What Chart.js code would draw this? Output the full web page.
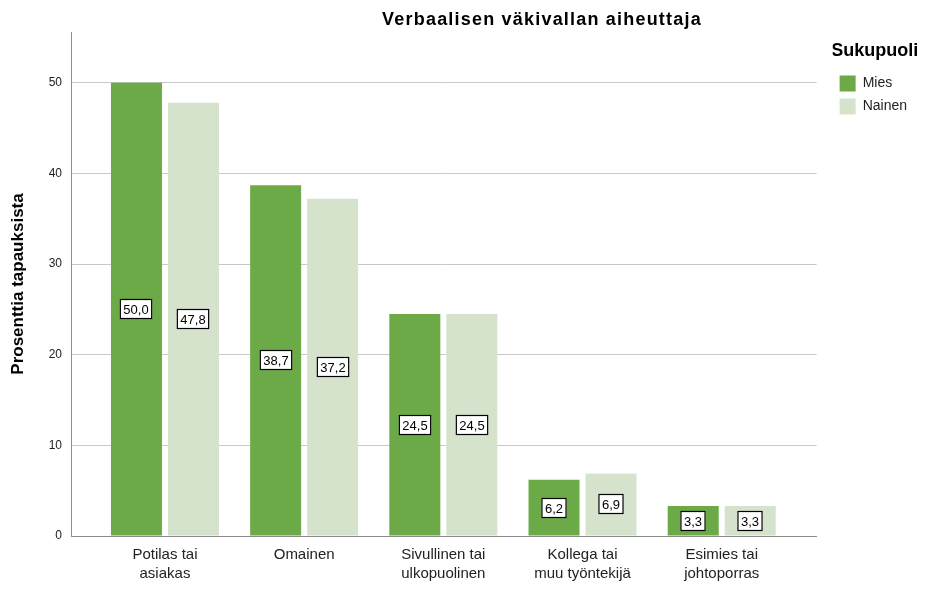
<!DOCTYPE html>
<html lang="fi">
<head>
  <meta charset="UTF-8" />
  <title>Verbaalisen väkivallan aiheuttaja</title>
  <script src="https://cdn.jsdelivr.net/npm/chart.js@4.4.1/dist/chart.umd.min.js"></script>
  <style>
    html, body { margin: 0; padding: 0; background: #fff; }
    #wrap { width: 929px; height: 590px; }
  </style>
</head>
<body>
  <div id="wrap"><canvas id="chart" width="929" height="590"></canvas></div>

  <script>
  // data
  const categories = [
    ['Potilas tai', 'asiakas'],
    ['Omainen'],
    ['Sivullinen tai', 'ulkopuolinen'],
    ['Kollega tai', 'muu työntekijä'],
    ['Esimies tai', 'johtoporras']
  ];
  const mies   = [50.0, 38.7, 24.5, 6.2, 3.3];
  const nainen = [47.8, 37.2, 24.5, 6.9, 3.3];
  const yTicks = [0, 10, 20, 30, 40, 50];

  const FONT = "'Liberation Sans', Arial, sans-serif";
  const asPoints = arr => arr.map((v, i) => ({ x: i, y: v }));
  const fmt = v => v.toFixed(1).replace('.', ',');

  // title drawn over the plot, a bit right of centre like the original
  const topTitle = {
    id: 'topTitle',
    afterDraw(chart) {
      const ctx = chart.ctx;
      ctx.save();
      ctx.font = 'bold 18px ' + FONT;
      ctx.fillStyle = '#000';
      ctx.textAlign = 'center';
      ctx.textBaseline = 'alphabetic';
      if ('letterSpacing' in ctx) ctx.letterSpacing = '1.2px';
      ctx.fillText('Verbaalisen väkivallan aiheuttaja', 542, 25);
      ctx.restore();
    }
  };

  // boxed value labels in the middle of each bar
  const boxLabels = {
    id: 'boxLabels',
    afterDatasetsDraw(chart) {
      const ctx = chart.ctx;
      ctx.save();
      ctx.font = '13px ' + FONT;
      ctx.textAlign = 'center';
      ctx.textBaseline = 'middle';
      chart.data.datasets.forEach((ds, di) => {
        chart.getDatasetMeta(di).data.forEach((bar, i) => {
          const txt = fmt(ds.data[i].y);
          const w = ctx.measureText(txt).width + 7;
          const h = 20;
          const cx = Math.round(bar.x), cy = Math.round((bar.y + bar.base) / 2);
          ctx.fillStyle = '#fff';
          ctx.fillRect(cx - w / 2, cy - h / 2, w, h);
          ctx.strokeStyle = '#000';
          ctx.lineWidth = 1.2;
          ctx.strokeRect(cx - w / 2 + 0.5, cy - h / 2 + 0.5, w - 1, h - 1);
          ctx.fillStyle = '#000';
          ctx.fillText(txt, cx, cy + 1);
        });
      });
      ctx.restore();
    }
  };

  new Chart(document.getElementById('chart'), {
    type: 'bar',
    data: {
      datasets: [
        { label: 'Mies',   data: asPoints(mies),   backgroundColor: '#6BAA46', borderWidth: 0 },
        { label: 'Nainen', data: asPoints(nainen), backgroundColor: '#D5E3CC', borderWidth: 0 }
      ]
    },
    plugins: [topTitle, boxLabels],
    options: {
      responsive: false,
      animation: false,
      layout: { padding: { top: 32, right: 12, left: 0, bottom: 0 } },
      categoryPercentage: 0.819,
      barPercentage: 0.895,
      plugins: {
        tooltip: { enabled: false },
        title: { display: false },
        legend: {
          position: 'right',
          align: 'start',
          title: {
            display: true,
            text: 'Sukupuoli',
            color: '#000',
            font: { family: FONT, size: 18, weight: 'bold' },
            padding: { top: 10, bottom: 5 }
          },
          labels: {
            boxWidth: 16,
            boxHeight: 16,
            padding: 7,
            color: '#222',
            font: { family: FONT, size: 14 }
          }
        }
      },
      scales: {
        x: {
          type: 'linear',
          offset: false,
          min: -0.675,
          max: 4.682,
          afterFit: s => { s.height = 54; },
          afterBuildTicks: s => { s.ticks = categories.map((c, i) => ({ value: i })); },
          grid: { display: false, drawTicks: false, offset: false },
          border: { display: true, color: '#8c8c8c', width: 1 },
          ticks: {
            autoSkip: false,
            maxRotation: 0,
            padding: 9,
            color: '#222',
            font: { family: FONT, size: 15, lineHeight: 1.3 },
            callback: v => categories[v] || ''
          }
        },
        y: {
          min: 0,
          max: 55.6,
          afterFit: s => { s.width = 71; },
          afterBuildTicks: s => { s.ticks = yTicks.map(v => ({ value: v })); },
          grid: { color: '#c8c8c8', drawTicks: false },
          border: { display: true, color: '#8c8c8c', width: 1 },
          ticks: {
            padding: 9,
            color: '#222',
            font: { family: FONT, size: 12 }
          },
          title: {
            display: true,
            text: 'Prosenttia tapauksista',
            color: '#000',
            font: { family: FONT, size: 17, weight: 'bold' },
            padding: { top: 8, bottom: 0 }
          }
        },
        // empty spacer between plot and legend
        gap: {
          type: 'linear',
          position: 'right',
          afterFit: s => { s.width = 16; },
          grid: { display: false, drawTicks: false },
          border: { display: false },
          ticks: { display: false }
        }
      }
    }
  });
  </script>
</body>
</html>
